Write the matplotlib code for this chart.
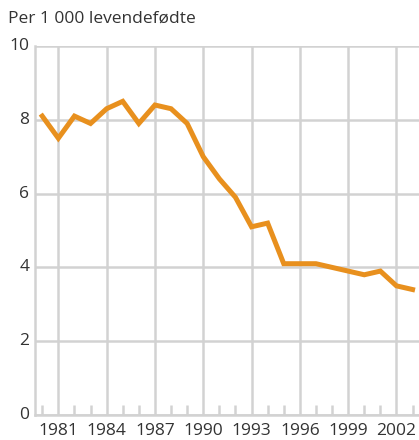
import matplotlib
matplotlib.use("Agg")
import matplotlib.pyplot as plt

# data
aar = [1980, 1981, 1982, 1983, 1984, 1985, 1986, 1987, 1988, 1989, 1990, 1991,
       1992, 1993, 1994, 1995, 1996, 1997, 1998, 1999, 2000, 2001, 2002, 2003]
verdi = [8.1, 7.5, 8.1, 7.9, 8.3, 8.5, 7.9, 8.4, 8.3, 7.9, 7.0, 6.4,
         5.9, 5.1, 5.2, 4.1, 4.1, 4.1, 4.0, 3.9, 3.8, 3.9, 3.5, 3.4]
x_ticks = [1981, 1984, 1987, 1990, 1993, 1996, 1999, 2002]
y_ticks = [0, 2, 4, 6, 8, 10]
tittel = "Per 1 000 levendefødte"

plt.rcParams['font.family'] = ['Open Sans', 'DejaVu Sans']
grid_farge = '#d2d2d2'
tekst_farge = '#333333'

fig = plt.figure(figsize=(4.19, 4.40), dpi=100)
ax = fig.add_axes([0.0835, 0.0568, 0.9165, 0.8387])

ax.plot(aar, verdi, color='#e8901e', linewidth=3.6, solid_joinstyle='miter', zorder=3)

ax.set_xlim(1979.55, 2003.4)
ax.set_ylim(0, 10)
ax.set_xticks(x_ticks)
ax.set_xticks([a for a in range(1980, 2004) if a not in x_ticks], minor=True)
ax.set_yticks(y_ticks)

ax.grid(True, which='major', color=grid_farge, linewidth=1.8)
ax.set_axisbelow(True)

for s in ['top', 'right']:
    ax.spines[s].set_visible(False)
for s in ['left', 'bottom']:
    ax.spines[s].set_color(grid_farge)
    ax.spines[s].set_linewidth(1.8)

ax.tick_params(axis='x', which='major', length=0, pad=6, labelsize=12.5, labelcolor=tekst_farge)
ax.tick_params(axis='x', which='minor', direction='in', length=7, width=1.8, color=grid_farge)
ax.tick_params(axis='y', length=0, pad=4, labelsize=12.5, labelcolor=tekst_farge)
for lab in ax.get_yticklabels():
    lab.set_verticalalignment('center')

fig.text(0.019, 0.958, tittel, fontsize=12.5, color=tekst_farge, va='center', ha='left')

fig.savefig('out.png', dpi=100)
